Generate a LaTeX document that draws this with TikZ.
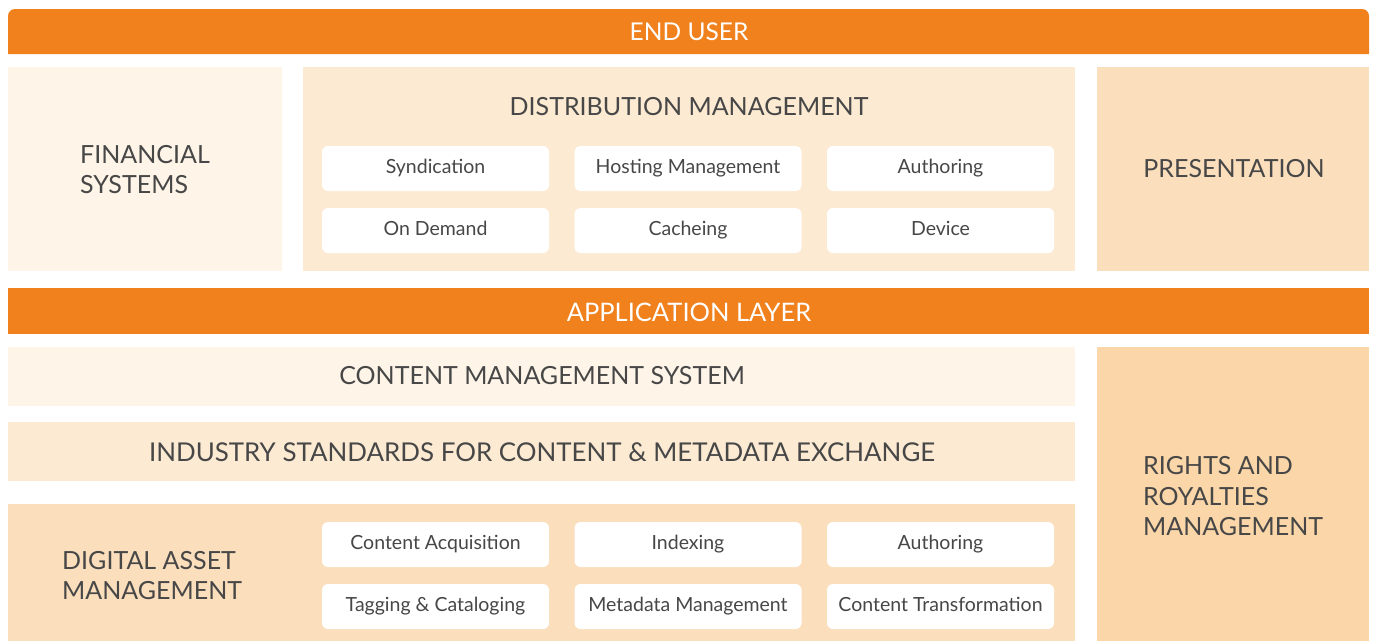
\documentclass[tikz,border=0pt]{standalone}
\usepackage{fontspec}
\setmainfont{Lato}
\definecolor{barorange}{HTML}{F0811D}
\definecolor{pale}{HTML}{FEF4E8}
\definecolor{mid}{HTML}{FCEAD2}
\definecolor{deep}{HTML}{FBDEBC}
\definecolor{deeper}{HTML}{FAD6A8}
\definecolor{ink}{HTML}{474747}
\tikzset{
  panel/.style={anchor=north west, inner sep=0pt, outer sep=0pt, draw=none},
  chip/.style={fill=white, rounded corners=6pt, minimum width=227pt, minimum height=45pt, inner sep=0pt, text height=14pt, text depth=4pt, text=ink, font=\fontsize{19.5}{22}\selectfont},
  headtext/.style={text=white, font=\fontsize{24.5}{28}\selectfont, inner sep=0pt},
  bigtext/.style={text=ink, font=\fontsize{25}{30}\selectfont, inner sep=0pt},
  sidetext/.style={text=ink, font=\fontsize{25}{30.5}\selectfont, inner sep=0pt, align=left, anchor=west},
}
\begin{document}
\begin{tikzpicture}[x=1pt,y=-1pt]
\useasboundingbox (0,0) rectangle (1375,641);
% END USER bar
\fill[barorange] (8,54) {[rounded corners=7pt] -- (8,9) -- (1369,9)} -- (1369,54) -- cycle;
\node[headtext] (enduser) at (689,32) {END USER};
% top panels
\node[panel, fill=pale, minimum width=274pt, minimum height=204pt] (fin) at (8,67) {};
\node[panel, fill=mid, minimum width=772pt, minimum height=204pt] (dist) at (303,67) {};
\node[panel, fill=deep, minimum width=272pt, minimum height=204pt] (pres) at (1097,67) {};
\node[sidetext] (fintext) at (80,169.5) {FINANCIAL\\SYSTEMS};
\node[bigtext] (disttext) at (689,107) {DISTRIBUTION MANAGEMENT};
\node[bigtext] (prestext) at (1234,169) {PRESENTATION};
% distribution chips
\node[chip] (synd) at (435.5,168.5) {Syndication};
\node[chip] (host) at (688,168.5) {Hosting Management};
\node[chip] (auth1) at (940.5,168.5) {Authoring};
\node[chip] (ondem) at (435.5,230.5) {On Demand};
\node[chip] (cache) at (688,230.5) {Cacheing};
\node[chip] (device) at (940.5,230.5) {Device};
% APPLICATION LAYER bar
\node[panel, fill=barorange, minimum width=1361pt, minimum height=46pt] (appbar) at (8,288) {};
\node[headtext, font=\fontsize{25.5}{28}\selectfont] (apptext) at (689,312) {APPLICATION LAYER};
% lower panels
\node[panel, fill=pale, minimum width=1067pt, minimum height=59pt] (cms) at (8,347) {};
\node[panel, fill=mid, minimum width=1067pt, minimum height=59pt] (ind) at (8,422) {};
\node[panel, fill=deep, minimum width=1067pt, minimum height=137pt] (dam) at (8,504) {};
\node[panel, fill=deeper, minimum width=272pt, minimum height=294pt] (rights) at (1097,347) {};
\node[bigtext] (cmstext) at (542,376) {CONTENT MANAGEMENT SYSTEM};
\node[bigtext, font=\fontsize{25.9}{30}\selectfont] (indtext) at (542,452) {INDUSTRY STANDARDS FOR CONTENT \& METADATA EXCHANGE};
\node[sidetext] (damtext) at (62,575.5) {DIGITAL ASSET\\MANAGEMENT};
\node[sidetext] (rightstext) at (1143,496.5) {RIGHTS AND\\ROYALTIES\\MANAGEMENT};
% DAM chips
\node[chip] (acq) at (435.5,544.5) {Content Acquisition};
\node[chip] (idx) at (688,544.5) {Indexing};
\node[chip] (auth2) at (940.5,544.5) {Authoring};
\node[chip] (tag) at (435.5,606.5) {Tagging \& Cataloging};
\node[chip] (meta) at (688,606.5) {Metadata Management};
\node[chip] (trans) at (940.5,606.5) {Content Transformation};
\end{tikzpicture}
\end{document}
